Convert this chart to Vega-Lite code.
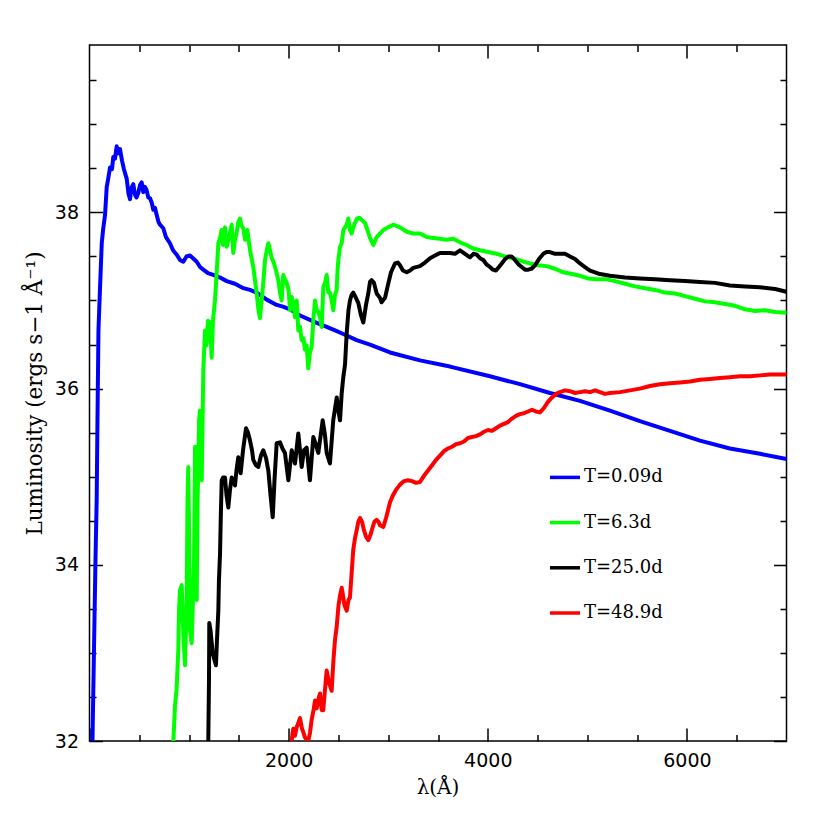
{
"$schema":"https://vega.github.io/schema/vega-lite/v6.json",
"width":697,"height":696,
"autosize":"none",
"padding":{"left":89.5,"top":45,"right":43.5,"bottom":89},
"background":"white",
"config":{"view":{"stroke":"black","strokeWidth":1.5},"axis":{"domain":false,"grid":false,"tickColor":"black","tickWidth":1.5,"labelColor":"black","titleColor":"black"}},
"data":{"values":[
{"s":"T=0.09d","x":30,"y":32.00},{"s":"T=0.09d","x":45,"y":33.03},{"s":"T=0.09d","x":60,"y":34.05},{"s":"T=0.09d","x":72,"y":34.73},{"s":"T=0.09d","x":80,"y":35.64},{"s":"T=0.09d","x":90,"y":36.66},{"s":"T=0.09d","x":105,"y":37.12},{"s":"T=0.09d","x":123,"y":37.65},{"s":"T=0.09d","x":136,"y":37.80},{"s":"T=0.09d","x":156,"y":37.97},{"s":"T=0.09d","x":173,"y":38.29},{"s":"T=0.09d","x":186,"y":38.37},{"s":"T=0.09d","x":206,"y":38.51},{"s":"T=0.09d","x":226,"y":38.49},{"s":"T=0.09d","x":239,"y":38.63},{"s":"T=0.09d","x":256,"y":38.61},{"s":"T=0.09d","x":273,"y":38.75},{"s":"T=0.09d","x":286,"y":38.67},{"s":"T=0.09d","x":306,"y":38.72},{"s":"T=0.09d","x":326,"y":38.59},{"s":"T=0.09d","x":346,"y":38.49},{"s":"T=0.09d","x":374,"y":38.38},{"s":"T=0.09d","x":392,"y":38.21},{"s":"T=0.09d","x":407,"y":38.15},{"s":"T=0.09d","x":422,"y":38.28},{"s":"T=0.09d","x":440,"y":38.32},{"s":"T=0.09d","x":457,"y":38.20},{"s":"T=0.09d","x":472,"y":38.17},{"s":"T=0.09d","x":490,"y":38.22},{"s":"T=0.09d","x":507,"y":38.31},{"s":"T=0.09d","x":524,"y":38.34},{"s":"T=0.09d","x":540,"y":38.23},{"s":"T=0.09d","x":557,"y":38.29},{"s":"T=0.09d","x":574,"y":38.25},{"s":"T=0.09d","x":590,"y":38.17},{"s":"T=0.09d","x":608,"y":38.16},{"s":"T=0.09d","x":625,"y":38.11},{"s":"T=0.09d","x":641,"y":38.03},{"s":"T=0.09d","x":658,"y":38.05},{"s":"T=0.09d","x":675,"y":37.97},{"s":"T=0.09d","x":693,"y":37.89},{"s":"T=0.09d","x":708,"y":37.86},{"s":"T=0.09d","x":741,"y":37.82},{"s":"T=0.09d","x":768,"y":37.72},{"s":"T=0.09d","x":808,"y":37.65},{"s":"T=0.09d","x":839,"y":37.57},{"s":"T=0.09d","x":876,"y":37.52},{"s":"T=0.09d","x":909,"y":37.46},{"s":"T=0.09d","x":942,"y":37.44},{"s":"T=0.09d","x":974,"y":37.50},{"s":"T=0.09d","x":1009,"y":37.51},{"s":"T=0.09d","x":1039,"y":37.48},{"s":"T=0.09d","x":1077,"y":37.44},{"s":"T=0.09d","x":1110,"y":37.38},{"s":"T=0.09d","x":1143,"y":37.35},{"s":"T=0.09d","x":1190,"y":37.31},{"s":"T=0.09d","x":1243,"y":37.29},{"s":"T=0.09d","x":1311,"y":37.26},{"s":"T=0.09d","x":1378,"y":37.22},{"s":"T=0.09d","x":1461,"y":37.19},{"s":"T=0.09d","x":1545,"y":37.14},{"s":"T=0.09d","x":1612,"y":37.12},{"s":"T=0.09d","x":1679,"y":37.09},{"s":"T=0.09d","x":1780,"y":37.01},{"s":"T=0.09d","x":1880,"y":36.95},{"s":"T=0.09d","x":1943,"y":36.93},{"s":"T=0.09d","x":2014,"y":36.90},{"s":"T=0.09d","x":2114,"y":36.83},{"s":"T=0.09d","x":2214,"y":36.78},{"s":"T=0.09d","x":2295,"y":36.74},{"s":"T=0.09d","x":2382,"y":36.70},{"s":"T=0.09d","x":2466,"y":36.66},{"s":"T=0.09d","x":2549,"y":36.62},{"s":"T=0.09d","x":2683,"y":36.55},{"s":"T=0.09d","x":2817,"y":36.50},{"s":"T=0.09d","x":3018,"y":36.41},{"s":"T=0.09d","x":3319,"y":36.32},{"s":"T=0.09d","x":3620,"y":36.25},{"s":"T=0.09d","x":4022,"y":36.14},{"s":"T=0.09d","x":4323,"y":36.05},{"s":"T=0.09d","x":4625,"y":35.95},{"s":"T=0.09d","x":4926,"y":35.86},{"s":"T=0.09d","x":5227,"y":35.75},{"s":"T=0.09d","x":5528,"y":35.63},{"s":"T=0.09d","x":5830,"y":35.52},{"s":"T=0.09d","x":6131,"y":35.41},{"s":"T=0.09d","x":6432,"y":35.32},{"s":"T=0.09d","x":6733,"y":35.26},{"s":"T=0.09d","x":7000,"y":35.20},
{"s":"T=6.3d","x":842,"y":32.00},{"s":"T=6.3d","x":859,"y":32.41},{"s":"T=6.3d","x":874,"y":32.58},{"s":"T=6.3d","x":892,"y":33.03},{"s":"T=6.3d","x":899,"y":33.48},{"s":"T=6.3d","x":909,"y":33.71},{"s":"T=6.3d","x":926,"y":33.77},{"s":"T=6.3d","x":942,"y":33.22},{"s":"T=6.3d","x":959,"y":32.86},{"s":"T=6.3d","x":976,"y":33.60},{"s":"T=6.3d","x":984,"y":34.73},{"s":"T=6.3d","x":992,"y":35.11},{"s":"T=6.3d","x":999,"y":34.50},{"s":"T=6.3d","x":1009,"y":33.26},{"s":"T=6.3d","x":1026,"y":33.11},{"s":"T=6.3d","x":1039,"y":33.60},{"s":"T=6.3d","x":1050,"y":34.05},{"s":"T=6.3d","x":1060,"y":35.34},{"s":"T=6.3d","x":1070,"y":34.51},{"s":"T=6.3d","x":1077,"y":33.60},{"s":"T=6.3d","x":1085,"y":34.73},{"s":"T=6.3d","x":1093,"y":35.07},{"s":"T=6.3d","x":1100,"y":35.64},{"s":"T=6.3d","x":1110,"y":35.75},{"s":"T=6.3d","x":1127,"y":34.96},{"s":"T=6.3d","x":1143,"y":36.21},{"s":"T=6.3d","x":1160,"y":36.66},{"s":"T=6.3d","x":1175,"y":36.49},{"s":"T=6.3d","x":1190,"y":36.77},{"s":"T=6.3d","x":1210,"y":36.75},{"s":"T=6.3d","x":1227,"y":36.35},{"s":"T=6.3d","x":1240,"y":36.77},{"s":"T=6.3d","x":1260,"y":37.00},{"s":"T=6.3d","x":1277,"y":37.31},{"s":"T=6.3d","x":1294,"y":37.65},{"s":"T=6.3d","x":1311,"y":37.71},{"s":"T=6.3d","x":1327,"y":37.80},{"s":"T=6.3d","x":1341,"y":37.63},{"s":"T=6.3d","x":1361,"y":37.83},{"s":"T=6.3d","x":1378,"y":37.61},{"s":"T=6.3d","x":1396,"y":37.69},{"s":"T=6.3d","x":1411,"y":37.77},{"s":"T=6.3d","x":1428,"y":37.86},{"s":"T=6.3d","x":1444,"y":37.54},{"s":"T=6.3d","x":1461,"y":37.69},{"s":"T=6.3d","x":1478,"y":37.77},{"s":"T=6.3d","x":1494,"y":37.89},{"s":"T=6.3d","x":1511,"y":37.93},{"s":"T=6.3d","x":1526,"y":37.85},{"s":"T=6.3d","x":1545,"y":37.82},{"s":"T=6.3d","x":1562,"y":37.69},{"s":"T=6.3d","x":1585,"y":37.80},{"s":"T=6.3d","x":1612,"y":37.57},{"s":"T=6.3d","x":1645,"y":37.38},{"s":"T=6.3d","x":1679,"y":37.08},{"s":"T=6.3d","x":1697,"y":36.89},{"s":"T=6.3d","x":1712,"y":36.80},{"s":"T=6.3d","x":1729,"y":37.00},{"s":"T=6.3d","x":1747,"y":37.23},{"s":"T=6.3d","x":1763,"y":37.46},{"s":"T=6.3d","x":1780,"y":37.57},{"s":"T=6.3d","x":1796,"y":37.65},{"s":"T=6.3d","x":1813,"y":37.57},{"s":"T=6.3d","x":1830,"y":37.48},{"s":"T=6.3d","x":1848,"y":37.44},{"s":"T=6.3d","x":1863,"y":37.38},{"s":"T=6.3d","x":1878,"y":37.32},{"s":"T=6.3d","x":1896,"y":37.23},{"s":"T=6.3d","x":1913,"y":37.09},{"s":"T=6.3d","x":1930,"y":37.00},{"s":"T=6.3d","x":1946,"y":37.29},{"s":"T=6.3d","x":1963,"y":37.24},{"s":"T=6.3d","x":1980,"y":37.20},{"s":"T=6.3d","x":1999,"y":37.12},{"s":"T=6.3d","x":2014,"y":36.89},{"s":"T=6.3d","x":2031,"y":37.04},{"s":"T=6.3d","x":2049,"y":36.95},{"s":"T=6.3d","x":2064,"y":36.81},{"s":"T=6.3d","x":2081,"y":37.00},{"s":"T=6.3d","x":2097,"y":36.66},{"s":"T=6.3d","x":2114,"y":36.70},{"s":"T=6.3d","x":2131,"y":36.55},{"s":"T=6.3d","x":2149,"y":36.57},{"s":"T=6.3d","x":2164,"y":36.44},{"s":"T=6.3d","x":2181,"y":36.49},{"s":"T=6.3d","x":2197,"y":36.23},{"s":"T=6.3d","x":2214,"y":36.41},{"s":"T=6.3d","x":2231,"y":36.47},{"s":"T=6.3d","x":2248,"y":36.78},{"s":"T=6.3d","x":2265,"y":37.00},{"s":"T=6.3d","x":2281,"y":36.89},{"s":"T=6.3d","x":2298,"y":36.87},{"s":"T=6.3d","x":2315,"y":36.81},{"s":"T=6.3d","x":2332,"y":36.70},{"s":"T=6.3d","x":2348,"y":37.15},{"s":"T=6.3d","x":2365,"y":37.20},{"s":"T=6.3d","x":2382,"y":37.29},{"s":"T=6.3d","x":2398,"y":37.09},{"s":"T=6.3d","x":2415,"y":37.09},{"s":"T=6.3d","x":2432,"y":37.00},{"s":"T=6.3d","x":2448,"y":36.89},{"s":"T=6.3d","x":2465,"y":37.06},{"s":"T=6.3d","x":2482,"y":37.12},{"s":"T=6.3d","x":2491,"y":37.34},{"s":"T=6.3d","x":2499,"y":37.46},{"s":"T=6.3d","x":2516,"y":37.61},{"s":"T=6.3d","x":2533,"y":37.65},{"s":"T=6.3d","x":2549,"y":37.80},{"s":"T=6.3d","x":2566,"y":37.83},{"s":"T=6.3d","x":2583,"y":37.86},{"s":"T=6.3d","x":2599,"y":37.93},{"s":"T=6.3d","x":2616,"y":37.80},{"s":"T=6.3d","x":2633,"y":37.76},{"s":"T=6.3d","x":2649,"y":37.83},{"s":"T=6.3d","x":2666,"y":37.88},{"s":"T=6.3d","x":2686,"y":37.93},{"s":"T=6.3d","x":2710,"y":37.94},{"s":"T=6.3d","x":2737,"y":37.91},{"s":"T=6.3d","x":2767,"y":37.88},{"s":"T=6.3d","x":2797,"y":37.78},{"s":"T=6.3d","x":2817,"y":37.71},{"s":"T=6.3d","x":2850,"y":37.63},{"s":"T=6.3d","x":2884,"y":37.72},{"s":"T=6.3d","x":2917,"y":37.76},{"s":"T=6.3d","x":2951,"y":37.80},{"s":"T=6.3d","x":2998,"y":37.83},{"s":"T=6.3d","x":3051,"y":37.86},{"s":"T=6.3d","x":3118,"y":37.83},{"s":"T=6.3d","x":3186,"y":37.78},{"s":"T=6.3d","x":3249,"y":37.76},{"s":"T=6.3d","x":3319,"y":37.76},{"s":"T=6.3d","x":3386,"y":37.72},{"s":"T=6.3d","x":3450,"y":37.71},{"s":"T=6.3d","x":3520,"y":37.70},{"s":"T=6.3d","x":3580,"y":37.69},{"s":"T=6.3d","x":3654,"y":37.70},{"s":"T=6.3d","x":3721,"y":37.66},{"s":"T=6.3d","x":3788,"y":37.63},{"s":"T=6.3d","x":3852,"y":37.59},{"s":"T=6.3d","x":3922,"y":37.57},{"s":"T=6.3d","x":4002,"y":37.55},{"s":"T=6.3d","x":4089,"y":37.53},{"s":"T=6.3d","x":4173,"y":37.50},{"s":"T=6.3d","x":4256,"y":37.48},{"s":"T=6.3d","x":4334,"y":37.45},{"s":"T=6.3d","x":4424,"y":37.42},{"s":"T=6.3d","x":4504,"y":37.40},{"s":"T=6.3d","x":4592,"y":37.39},{"s":"T=6.3d","x":4675,"y":37.36},{"s":"T=6.3d","x":4758,"y":37.32},{"s":"T=6.3d","x":4846,"y":37.30},{"s":"T=6.3d","x":4926,"y":37.28},{"s":"T=6.3d","x":5006,"y":37.25},{"s":"T=6.3d","x":5094,"y":37.24},{"s":"T=6.3d","x":5194,"y":37.24},{"s":"T=6.3d","x":5278,"y":37.22},{"s":"T=6.3d","x":5379,"y":37.19},{"s":"T=6.3d","x":5479,"y":37.16},{"s":"T=6.3d","x":5579,"y":37.14},{"s":"T=6.3d","x":5680,"y":37.12},{"s":"T=6.3d","x":5780,"y":37.09},{"s":"T=6.3d","x":5881,"y":37.08},{"s":"T=6.3d","x":5981,"y":37.05},{"s":"T=6.3d","x":6082,"y":37.02},{"s":"T=6.3d","x":6182,"y":36.99},{"s":"T=6.3d","x":6282,"y":36.98},{"s":"T=6.3d","x":6383,"y":36.96},{"s":"T=6.3d","x":6483,"y":36.94},{"s":"T=6.3d","x":6584,"y":36.90},{"s":"T=6.3d","x":6684,"y":36.88},{"s":"T=6.3d","x":6785,"y":36.89},{"s":"T=6.3d","x":6885,"y":36.87},{"s":"T=6.3d","x":7000,"y":36.86},
{"s":"T=25.0d","x":1193,"y":32.00},{"s":"T=25.0d","x":1200,"y":32.69},{"s":"T=25.0d","x":1203,"y":33.34},{"s":"T=25.0d","x":1215,"y":33.26},{"s":"T=25.0d","x":1237,"y":33.00},{"s":"T=25.0d","x":1255,"y":32.92},{"s":"T=25.0d","x":1270,"y":32.86},{"s":"T=25.0d","x":1280,"y":33.14},{"s":"T=25.0d","x":1294,"y":33.48},{"s":"T=25.0d","x":1300,"y":33.82},{"s":"T=25.0d","x":1311,"y":34.13},{"s":"T=25.0d","x":1319,"y":34.57},{"s":"T=25.0d","x":1328,"y":34.96},{"s":"T=25.0d","x":1341,"y":34.99},{"s":"T=25.0d","x":1361,"y":34.99},{"s":"T=25.0d","x":1376,"y":34.79},{"s":"T=25.0d","x":1394,"y":34.65},{"s":"T=25.0d","x":1411,"y":34.85},{"s":"T=25.0d","x":1428,"y":34.99},{"s":"T=25.0d","x":1444,"y":34.96},{"s":"T=25.0d","x":1461,"y":34.90},{"s":"T=25.0d","x":1476,"y":35.07},{"s":"T=25.0d","x":1494,"y":35.22},{"s":"T=25.0d","x":1518,"y":35.04},{"s":"T=25.0d","x":1542,"y":35.30},{"s":"T=25.0d","x":1572,"y":35.55},{"s":"T=25.0d","x":1592,"y":35.50},{"s":"T=25.0d","x":1612,"y":35.41},{"s":"T=25.0d","x":1632,"y":35.30},{"s":"T=25.0d","x":1645,"y":35.19},{"s":"T=25.0d","x":1672,"y":35.13},{"s":"T=25.0d","x":1695,"y":35.11},{"s":"T=25.0d","x":1722,"y":35.24},{"s":"T=25.0d","x":1745,"y":35.30},{"s":"T=25.0d","x":1773,"y":35.21},{"s":"T=25.0d","x":1796,"y":35.07},{"s":"T=25.0d","x":1818,"y":34.79},{"s":"T=25.0d","x":1840,"y":34.54},{"s":"T=25.0d","x":1858,"y":34.96},{"s":"T=25.0d","x":1880,"y":35.38},{"s":"T=25.0d","x":1913,"y":35.39},{"s":"T=25.0d","x":1938,"y":35.32},{"s":"T=25.0d","x":1963,"y":35.27},{"s":"T=25.0d","x":1997,"y":34.96},{"s":"T=25.0d","x":2031,"y":35.30},{"s":"T=25.0d","x":2064,"y":35.15},{"s":"T=25.0d","x":2097,"y":35.49},{"s":"T=25.0d","x":2131,"y":35.11},{"s":"T=25.0d","x":2154,"y":35.30},{"s":"T=25.0d","x":2181,"y":35.33},{"s":"T=25.0d","x":2214,"y":34.96},{"s":"T=25.0d","x":2248,"y":35.45},{"s":"T=25.0d","x":2275,"y":35.36},{"s":"T=25.0d","x":2298,"y":35.27},{"s":"T=25.0d","x":2342,"y":35.64},{"s":"T=25.0d","x":2365,"y":35.47},{"s":"T=25.0d","x":2382,"y":35.27},{"s":"T=25.0d","x":2415,"y":35.15},{"s":"T=25.0d","x":2448,"y":35.64},{"s":"T=25.0d","x":2483,"y":35.90},{"s":"T=25.0d","x":2499,"y":35.75},{"s":"T=25.0d","x":2516,"y":35.64},{"s":"T=25.0d","x":2533,"y":35.95},{"s":"T=25.0d","x":2549,"y":36.13},{"s":"T=25.0d","x":2566,"y":36.27},{"s":"T=25.0d","x":2583,"y":36.63},{"s":"T=25.0d","x":2601,"y":36.89},{"s":"T=25.0d","x":2616,"y":37.00},{"s":"T=25.0d","x":2631,"y":37.06},{"s":"T=25.0d","x":2649,"y":37.09},{"s":"T=25.0d","x":2676,"y":37.03},{"s":"T=25.0d","x":2700,"y":36.97},{"s":"T=25.0d","x":2727,"y":36.83},{"s":"T=25.0d","x":2750,"y":36.75},{"s":"T=25.0d","x":2777,"y":36.95},{"s":"T=25.0d","x":2800,"y":37.08},{"s":"T=25.0d","x":2817,"y":37.21},{"s":"T=25.0d","x":2834,"y":37.23},{"s":"T=25.0d","x":2857,"y":37.20},{"s":"T=25.0d","x":2884,"y":37.08},{"s":"T=25.0d","x":2917,"y":37.03},{"s":"T=25.0d","x":2933,"y":36.98},{"s":"T=25.0d","x":2968,"y":37.03},{"s":"T=25.0d","x":2998,"y":37.18},{"s":"T=25.0d","x":3028,"y":37.32},{"s":"T=25.0d","x":3068,"y":37.42},{"s":"T=25.0d","x":3098,"y":37.43},{"s":"T=25.0d","x":3118,"y":37.40},{"s":"T=25.0d","x":3148,"y":37.34},{"s":"T=25.0d","x":3186,"y":37.32},{"s":"T=25.0d","x":3219,"y":37.34},{"s":"T=25.0d","x":3252,"y":37.37},{"s":"T=25.0d","x":3319,"y":37.39},{"s":"T=25.0d","x":3369,"y":37.43},{"s":"T=25.0d","x":3420,"y":37.48},{"s":"T=25.0d","x":3470,"y":37.51},{"s":"T=25.0d","x":3520,"y":37.54},{"s":"T=25.0d","x":3570,"y":37.54},{"s":"T=25.0d","x":3620,"y":37.54},{"s":"T=25.0d","x":3670,"y":37.53},{"s":"T=25.0d","x":3721,"y":37.57},{"s":"T=25.0d","x":3771,"y":37.53},{"s":"T=25.0d","x":3821,"y":37.49},{"s":"T=25.0d","x":3856,"y":37.53},{"s":"T=25.0d","x":3889,"y":37.52},{"s":"T=25.0d","x":3922,"y":37.48},{"s":"T=25.0d","x":3955,"y":37.46},{"s":"T=25.0d","x":3987,"y":37.41},{"s":"T=25.0d","x":4022,"y":37.38},{"s":"T=25.0d","x":4052,"y":37.35},{"s":"T=25.0d","x":4082,"y":37.34},{"s":"T=25.0d","x":4112,"y":37.38},{"s":"T=25.0d","x":4140,"y":37.42},{"s":"T=25.0d","x":4173,"y":37.47},{"s":"T=25.0d","x":4206,"y":37.50},{"s":"T=25.0d","x":4238,"y":37.50},{"s":"T=25.0d","x":4273,"y":37.46},{"s":"T=25.0d","x":4308,"y":37.41},{"s":"T=25.0d","x":4341,"y":37.38},{"s":"T=25.0d","x":4374,"y":37.35},{"s":"T=25.0d","x":4407,"y":37.35},{"s":"T=25.0d","x":4439,"y":37.36},{"s":"T=25.0d","x":4474,"y":37.40},{"s":"T=25.0d","x":4514,"y":37.47},{"s":"T=25.0d","x":4558,"y":37.53},{"s":"T=25.0d","x":4590,"y":37.55},{"s":"T=25.0d","x":4625,"y":37.55},{"s":"T=25.0d","x":4675,"y":37.53},{"s":"T=25.0d","x":4725,"y":37.53},{"s":"T=25.0d","x":4775,"y":37.53},{"s":"T=25.0d","x":4826,"y":37.50},{"s":"T=25.0d","x":4876,"y":37.47},{"s":"T=25.0d","x":4926,"y":37.42},{"s":"T=25.0d","x":4976,"y":37.38},{"s":"T=25.0d","x":5027,"y":37.34},{"s":"T=25.0d","x":5077,"y":37.32},{"s":"T=25.0d","x":5127,"y":37.30},{"s":"T=25.0d","x":5227,"y":37.28},{"s":"T=25.0d","x":5379,"y":37.26},{"s":"T=25.0d","x":5528,"y":37.25},{"s":"T=25.0d","x":5680,"y":37.24},{"s":"T=25.0d","x":5830,"y":37.23},{"s":"T=25.0d","x":5981,"y":37.22},{"s":"T=25.0d","x":6131,"y":37.21},{"s":"T=25.0d","x":6282,"y":37.20},{"s":"T=25.0d","x":6432,"y":37.17},{"s":"T=25.0d","x":6584,"y":37.16},{"s":"T=25.0d","x":6733,"y":37.15},{"s":"T=25.0d","x":6885,"y":37.13},{"s":"T=25.0d","x":7000,"y":37.10},
{"s":"T=48.9d","x":2031,"y":32.00},{"s":"T=48.9d","x":2039,"y":32.09},{"s":"T=48.9d","x":2047,"y":32.14},{"s":"T=48.9d","x":2064,"y":32.06},{"s":"T=48.9d","x":2081,"y":32.16},{"s":"T=48.9d","x":2099,"y":32.21},{"s":"T=48.9d","x":2114,"y":32.26},{"s":"T=48.9d","x":2134,"y":32.14},{"s":"T=48.9d","x":2147,"y":32.10},{"s":"T=48.9d","x":2164,"y":32.04},{"s":"T=48.9d","x":2184,"y":32.01},{"s":"T=48.9d","x":2197,"y":32.00},{"s":"T=48.9d","x":2214,"y":32.09},{"s":"T=48.9d","x":2231,"y":32.24},{"s":"T=48.9d","x":2250,"y":32.35},{"s":"T=48.9d","x":2265,"y":32.46},{"s":"T=48.9d","x":2281,"y":32.37},{"s":"T=48.9d","x":2300,"y":32.48},{"s":"T=48.9d","x":2315,"y":32.54},{"s":"T=48.9d","x":2332,"y":32.35},{"s":"T=48.9d","x":2348,"y":32.35},{"s":"T=48.9d","x":2365,"y":32.58},{"s":"T=48.9d","x":2382,"y":32.80},{"s":"T=48.9d","x":2400,"y":32.69},{"s":"T=48.9d","x":2415,"y":32.63},{"s":"T=48.9d","x":2432,"y":32.57},{"s":"T=48.9d","x":2450,"y":32.92},{"s":"T=48.9d","x":2465,"y":33.14},{"s":"T=48.9d","x":2482,"y":33.29},{"s":"T=48.9d","x":2501,"y":33.54},{"s":"T=48.9d","x":2516,"y":33.65},{"s":"T=48.9d","x":2533,"y":33.74},{"s":"T=48.9d","x":2546,"y":33.65},{"s":"T=48.9d","x":2561,"y":33.54},{"s":"T=48.9d","x":2583,"y":33.48},{"s":"T=48.9d","x":2601,"y":33.60},{"s":"T=48.9d","x":2616,"y":33.63},{"s":"T=48.9d","x":2631,"y":33.88},{"s":"T=48.9d","x":2649,"y":34.17},{"s":"T=48.9d","x":2666,"y":34.30},{"s":"T=48.9d","x":2683,"y":34.39},{"s":"T=48.9d","x":2700,"y":34.49},{"s":"T=48.9d","x":2717,"y":34.53},{"s":"T=48.9d","x":2737,"y":34.49},{"s":"T=48.9d","x":2757,"y":34.39},{"s":"T=48.9d","x":2777,"y":34.32},{"s":"T=48.9d","x":2800,"y":34.28},{"s":"T=48.9d","x":2822,"y":34.34},{"s":"T=48.9d","x":2842,"y":34.42},{"s":"T=48.9d","x":2862,"y":34.49},{"s":"T=48.9d","x":2884,"y":34.51},{"s":"T=48.9d","x":2902,"y":34.49},{"s":"T=48.9d","x":2917,"y":34.45},{"s":"T=48.9d","x":2951,"y":34.43},{"s":"T=48.9d","x":2978,"y":34.53},{"s":"T=48.9d","x":2998,"y":34.62},{"s":"T=48.9d","x":3018,"y":34.71},{"s":"T=48.9d","x":3048,"y":34.79},{"s":"T=48.9d","x":3078,"y":34.85},{"s":"T=48.9d","x":3118,"y":34.91},{"s":"T=48.9d","x":3159,"y":34.95},{"s":"T=48.9d","x":3199,"y":34.96},{"s":"T=48.9d","x":3239,"y":34.95},{"s":"T=48.9d","x":3279,"y":34.93},{"s":"T=48.9d","x":3319,"y":34.94},{"s":"T=48.9d","x":3359,"y":35.01},{"s":"T=48.9d","x":3400,"y":35.07},{"s":"T=48.9d","x":3440,"y":35.13},{"s":"T=48.9d","x":3480,"y":35.19},{"s":"T=48.9d","x":3520,"y":35.24},{"s":"T=48.9d","x":3560,"y":35.29},{"s":"T=48.9d","x":3600,"y":35.32},{"s":"T=48.9d","x":3641,"y":35.34},{"s":"T=48.9d","x":3681,"y":35.37},{"s":"T=48.9d","x":3721,"y":35.38},{"s":"T=48.9d","x":3761,"y":35.40},{"s":"T=48.9d","x":3801,"y":35.44},{"s":"T=48.9d","x":3841,"y":35.45},{"s":"T=48.9d","x":3881,"y":35.46},{"s":"T=48.9d","x":3922,"y":35.48},{"s":"T=48.9d","x":3962,"y":35.51},{"s":"T=48.9d","x":4002,"y":35.53},{"s":"T=48.9d","x":4042,"y":35.52},{"s":"T=48.9d","x":4082,"y":35.55},{"s":"T=48.9d","x":4123,"y":35.58},{"s":"T=48.9d","x":4163,"y":35.60},{"s":"T=48.9d","x":4203,"y":35.62},{"s":"T=48.9d","x":4243,"y":35.66},{"s":"T=48.9d","x":4283,"y":35.69},{"s":"T=48.9d","x":4323,"y":35.71},{"s":"T=48.9d","x":4363,"y":35.72},{"s":"T=48.9d","x":4404,"y":35.74},{"s":"T=48.9d","x":4444,"y":35.76},{"s":"T=48.9d","x":4484,"y":35.74},{"s":"T=48.9d","x":4524,"y":35.73},{"s":"T=48.9d","x":4564,"y":35.78},{"s":"T=48.9d","x":4604,"y":35.85},{"s":"T=48.9d","x":4645,"y":35.90},{"s":"T=48.9d","x":4685,"y":35.94},{"s":"T=48.9d","x":4725,"y":35.96},{"s":"T=48.9d","x":4775,"y":35.98},{"s":"T=48.9d","x":4826,"y":35.97},{"s":"T=48.9d","x":4876,"y":35.95},{"s":"T=48.9d","x":4926,"y":35.96},{"s":"T=48.9d","x":4976,"y":35.97},{"s":"T=48.9d","x":5027,"y":35.96},{"s":"T=48.9d","x":5077,"y":35.98},{"s":"T=48.9d","x":5127,"y":35.96},{"s":"T=48.9d","x":5177,"y":35.94},{"s":"T=48.9d","x":5227,"y":35.95},{"s":"T=48.9d","x":5328,"y":35.96},{"s":"T=48.9d","x":5428,"y":35.98},{"s":"T=48.9d","x":5528,"y":36.00},{"s":"T=48.9d","x":5629,"y":36.03},{"s":"T=48.9d","x":5729,"y":36.05},{"s":"T=48.9d","x":5830,"y":36.06},{"s":"T=48.9d","x":5930,"y":36.07},{"s":"T=48.9d","x":6031,"y":36.08},{"s":"T=48.9d","x":6131,"y":36.10},{"s":"T=48.9d","x":6232,"y":36.11},{"s":"T=48.9d","x":6332,"y":36.12},{"s":"T=48.9d","x":6432,"y":36.13},{"s":"T=48.9d","x":6533,"y":36.14},{"s":"T=48.9d","x":6634,"y":36.14},{"s":"T=48.9d","x":6733,"y":36.15},{"s":"T=48.9d","x":6834,"y":36.16},{"s":"T=48.9d","x":7000,"y":36.16}
]},
"resolve":{"axis":{"x":"independent","y":"independent"}},
"layer":[
{"mark":{"type":"line","strokeWidth":4,"clip":true,"strokeJoin":"round","strokeCap":"round"},
 "encoding":{
  "x":{"field":"x","type":"quantitative","scale":{"domain":[0,7000],"nice":false,"zero":false},
   "axis":{"orient":"bottom","values":[2000,4000,6000],"format":"d","ticks":false,"labelFont":"DejaVu Sans","labelFontSize":19,"labelPadding":10,"title":"λ(Å)","titleFont":"DejaVu Serif","titleFontSize":20,"titleFontWeight":"normal","titleX":348,"titleY":52,"titleBaseline":"alphabetic","titleAlign":"center"}},
  "y":{"field":"y","type":"quantitative","scale":{"domain":[32,39.9],"nice":false,"zero":false},
   "axis":{"orient":"left","values":[32,34,36,38],"format":"d","ticks":false,"labelFont":"DejaVu Sans","labelFontSize":19,"labelPadding":11,"title":"Luminosity (ergs s−1 Å⁻¹)","titleFont":"DejaVu Serif","titleFontSize":21.5,"titleFontWeight":"normal","titleX":-48.5,"titleY":348,"titleAngle":270,"titleBaseline":"alphabetic","titleAlign":"center"}},
  "color":{"field":"s","type":"nominal","scale":{"domain":["T=0.09d","T=6.3d","T=25.0d","T=48.9d"],"range":["#0000ff","#00ff00","#000000","#ff0000"]},
   "legend":{"orient":"none","legendX":458.5,"legendY":415.4,"title":null,"padding":0,"symbolType":"stroke","symbolSize":900,"symbolStrokeWidth":3.5,"labelFont":"DejaVu Serif","labelFontSize":18,"labelColor":"black","labelOffset":2,"rowPadding":19.2}}
 }},
{"mark":{"type":"line","strokeOpacity":0},
 "encoding":{
  "x":{"field":"x","type":"quantitative","scale":{"domain":[0,7000],"nice":false,"zero":false},"axis":{"orient":"bottom","values":[0,2000,4000,6000],"labels":false,"tickSize":-13,"title":null}},
  "y":{"field":"y","type":"quantitative","scale":{"domain":[32,39.9],"nice":false,"zero":false},"axis":{"orient":"left","values":[32,34,36,38],"labels":false,"tickSize":-13,"title":null}},
  "detail":{"field":"s"}}},
{"mark":{"type":"line","strokeOpacity":0},
 "encoding":{
  "x":{"field":"x","type":"quantitative","scale":{"domain":[0,7000],"nice":false,"zero":false},"axis":{"orient":"bottom","values":[500,1000,1500,2500,3000,3500,4500,5000,5500,6500],"labels":false,"tickSize":-6.5,"title":null}},
  "y":{"field":"y","type":"quantitative","scale":{"domain":[32,39.9],"nice":false,"zero":false},"axis":{"orient":"left","values":[32.5,33,33.5,34.5,35,35.5,36.5,37,37.5,38.5,39,39.5],"labels":false,"tickSize":-6.5,"title":null}},
  "detail":{"field":"s"}}},
{"mark":{"type":"line","strokeOpacity":0},
 "encoding":{
  "x":{"field":"x","type":"quantitative","scale":{"domain":[0,7000],"nice":false,"zero":false},"axis":{"orient":"top","values":[2000,4000,6000],"labels":false,"tickSize":-13,"title":null}},
  "y":{"field":"y","type":"quantitative","scale":{"domain":[32,39.9],"nice":false,"zero":false},"axis":{"orient":"right","values":[32,34,36,38],"labels":false,"tickSize":-13,"title":null}},
  "detail":{"field":"s"}}},
{"mark":{"type":"line","strokeOpacity":0},
 "encoding":{
  "x":{"field":"x","type":"quantitative","scale":{"domain":[0,7000],"nice":false,"zero":false},"axis":{"orient":"top","values":[500,1000,1500,2500,3000,3500,4500,5000,5500,6500],"labels":false,"tickSize":-6.5,"title":null}},
  "y":{"field":"y","type":"quantitative","scale":{"domain":[32,39.9],"nice":false,"zero":false},"axis":{"orient":"right","values":[32.5,33,33.5,34.5,35,35.5,36.5,37,37.5,38.5,39,39.5],"labels":false,"tickSize":-6.5,"title":null}},
  "detail":{"field":"s"}}}
]
}
